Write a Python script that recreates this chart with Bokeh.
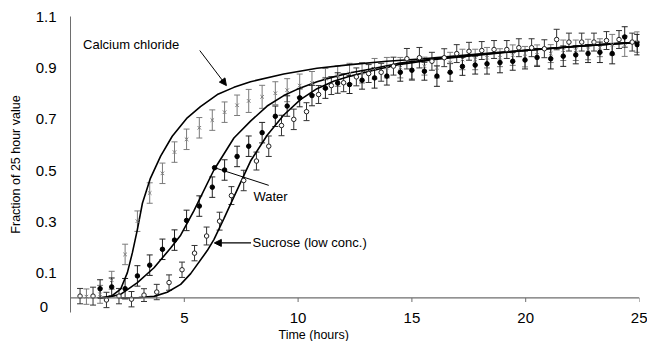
from bokeh.plotting import figure
from bokeh.models import (ColumnDataSource, Whisker, TeeHead, FixedTicker, Span,
                          Label, Arrow, NormalHead, Range1d, Title)
from bokeh.embed import file_html
from bokeh.resources import INLINE

# ---------------- data ----------------
x_ticks = [5, 10, 15, 20, 25]
y_ticks = [0.1, 0.3, 0.5, 0.7, 0.9, 1.1]
y_zero_pos = -0.034          # the hand-placed "0" label sits a little below the baseline
y_zero_label = "0\u00a0\u00a0"
x_title = "Time (hours)"
y_title = "Fraction of 25 hour value"

# Calcium chloride (crosses)
cacl_t = [0.70, 1.30, 1.81, 2.40, 2.94, 3.48, 4.04, 4.57, 5.10, 5.66,
          6.23, 6.77, 7.32, 7.83, 8.42, 9.00, 9.52, 10.07, 10.61, 11.20,
          11.74, 12.26, 12.81, 13.36, 13.90, 14.49, 15.00, 15.55, 16.10, 16.68,
          17.22, 17.78, 18.30, 18.87, 19.43, 19.97, 20.50, 21.10, 21.65, 22.20,
          22.74, 23.26, 23.80, 24.35, 24.90]
cacl_v = [0.005, 0.014, 0.069, 0.17, 0.30, 0.41, 0.487, 0.57, 0.62, 0.665,
          0.695, 0.726, 0.753, 0.77, 0.786, 0.80, 0.812, 0.83, 0.84, 0.857,
          0.867, 0.877, 0.88, 0.896, 0.90, 0.90, 0.89, 0.906, 0.90, 0.92,
          0.932, 0.932, 0.939, 0.939, 0.949, 0.943, 0.949, 0.955, 0.968, 0.968,
          0.971, 0.978, 0.99, 0.984, 1.0]
cacl_e = [0.03, 0.035, 0.035, 0.04, 0.04, 0.04, 0.04, 0.04, 0.04, 0.04,
          0.04, 0.04, 0.04, 0.045, 0.045, 0.045, 0.045, 0.045, 0.045, 0.04,
          0.04, 0.04, 0.04, 0.04, 0.04, 0.04, 0.04, 0.035, 0.04, 0.04,
          0.04, 0.04, 0.04, 0.035, 0.04, 0.04, 0.04, 0.035, 0.04, 0.04,
          0.04, 0.035, 0.04, 0.04, 0.04]

# Water (filled dots)
water_t = [1.30, 1.81, 2.40, 2.94, 3.48, 4.04, 4.57, 5.10, 5.66,
           6.23, 6.77, 7.32, 7.83, 8.42, 9.00, 9.52, 10.07, 10.61, 11.20,
           11.74, 12.26, 12.81, 13.36, 13.90, 14.49, 15.00, 15.55, 16.10, 16.68,
           17.22, 17.78, 18.30, 18.87, 19.43, 19.97, 20.50, 21.10, 21.65, 22.20,
           22.74, 23.26, 23.80, 24.35, 24.90]
water_v = [0.036, 0.043, 0.036, 0.086, 0.128, 0.19, 0.226, 0.303, 0.359,
           0.433, 0.50, 0.553, 0.593, 0.646, 0.71, 0.75, 0.782, 0.791, 0.82,
           0.84, 0.834, 0.851, 0.86, 0.867, 0.882, 0.89, 0.886, 0.867, 0.882,
           0.905, 0.91, 0.915, 0.92, 0.925, 0.93, 0.94, 0.935, 0.945, 0.95,
           0.955, 0.96, 0.955, 1.02, 0.99]
water_e = [0.035, 0.035, 0.04, 0.04, 0.04, 0.04, 0.04, 0.04, 0.04,
           0.04, 0.04, 0.04, 0.04, 0.04, 0.04, 0.04, 0.035, 0.04, 0.04,
           0.04, 0.035, 0.035, 0.04, 0.035, 0.035, 0.035, 0.035, 0.04, 0.035,
           0.035, 0.035, 0.04, 0.04, 0.035, 0.035, 0.035, 0.04, 0.04, 0.035,
           0.035, 0.04, 0.04, 0.04, 0.04]

# Sucrose (open circles)
suc_t = [0.42, 0.99, 1.58, 2.13, 2.68, 3.23, 3.79, 4.33, 4.90, 5.45,
         5.98, 6.55, 7.07, 7.61, 8.17, 8.71, 9.27, 9.81, 10.37, 10.90,
         11.46, 12.00, 12.56, 13.10, 13.65, 14.19, 14.78, 15.33, 15.88, 16.42,
         16.97, 17.51, 18.07, 18.61, 19.17, 19.70, 20.26, 20.82, 21.36, 21.90,
         22.46, 23.00, 23.55, 24.10, 24.68]
suc_v = [0.007, 0.007, -0.008, 0.007, -0.005, 0.011, 0.023, 0.06, 0.11, 0.175,
         0.242, 0.30, 0.40, 0.459, 0.535, 0.593, 0.674, 0.698, 0.728, 0.795,
         0.83, 0.841, 0.864, 0.877, 0.882, 0.906, 0.935, 0.939, 0.925, 0.939,
         0.955, 0.964, 0.967, 0.971, 0.971, 0.978, 0.978, 0.974, 1.01, 1.0,
         1.0, 1.0, 1.006, 1.01, 1.0]
suc_e = [0.03, 0.035, 0.03, 0.03, 0.03, 0.025, 0.03, 0.03, 0.03, 0.03,
         0.035, 0.035, 0.035, 0.04, 0.035, 0.04, 0.04, 0.04, 0.035, 0.035,
         0.035, 0.035, 0.035, 0.035, 0.035, 0.035, 0.04, 0.04, 0.035, 0.035,
         0.035, 0.035, 0.035, 0.035, 0.035, 0.035, 0.035, 0.035, 0.04, 0.035,
         0.035, 0.035, 0.035, 0.035, 0.035]

# fitted curves
cacl_curve_t = [1.3, 1.8, 2.2, 2.5, 2.72, 2.94, 3.16, 3.5, 3.96, 4.47, 5.13, 5.71,
                6.45, 7.18, 7.91, 9.37, 10.83, 12.3, 13.9, 15.5, 17.5, 20.0, 22.5, 25.0]
cacl_curve_v = [0.0, 0.007, 0.034, 0.099, 0.177, 0.268, 0.37, 0.465, 0.554, 0.632, 0.704, 0.748,
                0.795, 0.823, 0.845, 0.875, 0.898, 0.912, 0.925, 0.935, 0.95, 0.968, 0.985, 1.0]
water_curve_t = [1.2, 1.62, 2.2, 2.94, 3.67, 4.4, 4.84, 5.42, 6.3, 7.18, 7.91, 8.64,
                 9.37, 10.1, 10.83, 11.56, 12.3, 13.32, 14.49, 16.0, 18.0, 20.0, 22.5, 25.0]
water_curve_v = [0.0, 0.002, 0.014, 0.06, 0.118, 0.195, 0.245, 0.34, 0.5, 0.625, 0.691, 0.75,
                 0.791, 0.821, 0.845, 0.864, 0.88, 0.897, 0.918, 0.935, 0.952, 0.968, 0.985, 1.0]
suc_curve_t = [2.2, 3.0, 3.67, 4.25, 4.84, 5.28, 6.01, 6.3, 6.74, 7.18, 7.91, 8.64,
               9.37, 10.1, 10.83, 11.56, 12.3, 13.32, 14.49, 16.0, 18.0, 20.0, 22.5, 25.0]
suc_curve_v = [0.0, 0.001, 0.006, 0.022, 0.053, 0.095, 0.185, 0.228, 0.31, 0.395, 0.535, 0.636,
               0.715, 0.775, 0.818, 0.847, 0.867, 0.89, 0.913, 0.932, 0.95, 0.967, 0.985, 1.0]

# annotation texts and anchor points (data units)
labels = ["Calcium chloride", "Water", "Sucrose (low conc.)"]
label_x = [0.55, 8.04, 8.0]
label_y = [0.99, 0.398, 0.218]

# ---------------- style ----------------
FONT = "Liberation Sans"
AXIS_COLOR = "#6e6e6e"
GRAY = "#7a7a7a"
TICK_LEN = 0.016

p = figure(width=647, height=341, x_range=Range1d(0, 25), y_range=Range1d(-0.057, 1.1),
           output_backend="svg", toolbar_location=None,
           min_border_left=70, min_border_right=8, min_border_top=16, min_border_bottom=28)
p.grid.visible = False
p.outline_line_color = None
p.background_fill_color = "white"
p.border_fill_color = "white"

# x axis (labels at bottom, line drawn at y = 0)
p.xaxis.ticker = FixedTicker(ticks=x_ticks)
p.xaxis.axis_line_color = None
p.xaxis.major_tick_line_color = None
p.xaxis.major_tick_out = 0
p.xaxis.major_tick_in = 0
p.xaxis.minor_tick_line_color = None
p.xaxis.major_label_standoff = 0
p.xaxis.major_label_text_font = FONT
p.xaxis.major_label_text_font_size = "15px"
p.xaxis.major_label_text_color = "black"

# x-axis title sits left of the frame centre, as in the original
p.add_layout(Title(text=x_title, align="left", offset=208, standoff=0,
                   text_font=FONT, text_font_size="12.5px", text_font_style="normal",
                   text_color="black"), "below")

p.yaxis.ticker = FixedTicker(ticks=[y_zero_pos] + y_ticks)
p.yaxis.major_label_overrides = {y_zero_pos: y_zero_label}
p.yaxis.axis_line_color = AXIS_COLOR
p.yaxis.major_tick_line_color = None
p.yaxis.major_tick_out = 0
p.yaxis.major_tick_in = 0
p.yaxis.minor_tick_line_color = None
p.yaxis.major_label_standoff = 14
p.yaxis.major_label_text_font = FONT
p.yaxis.major_label_text_font_size = "15px"
p.yaxis.major_label_text_color = "black"
p.yaxis.axis_label = y_title
p.yaxis.axis_label_text_font = FONT
p.yaxis.axis_label_text_font_size = "12.5px"
p.yaxis.axis_label_text_font_style = "normal"
p.yaxis.axis_label_text_color = "black"
p.yaxis.axis_label_standoff = 10

p.add_layout(Span(location=0, dimension="width", line_color=AXIS_COLOR, line_width=1.2))
p.segment(x0=x_ticks, y0=[0] * len(x_ticks), x1=x_ticks, y1=[-TICK_LEN] * len(x_ticks),
          line_color=AXIS_COLOR, line_width=1)


def error_bars(t, v, e, color):
    src = ColumnDataSource(dict(t=t, lo=[a - b for a, b in zip(v, e)],
                                hi=[a + b for a, b in zip(v, e)]))
    p.add_layout(Whisker(source=src, base="t", lower="lo", upper="hi",
                         line_color=color, line_width=1,
                         upper_head=TeeHead(size=6, line_color=color, line_width=1),
                         lower_head=TeeHead(size=6, line_color=color, line_width=1)))


error_bars(cacl_t, cacl_v, cacl_e, GRAY)
error_bars(water_t, water_v, water_e, "#222222")
error_bars(suc_t, suc_v, suc_e, "#333333")

p.line(cacl_curve_t, cacl_curve_v, line_color="black", line_width=1.6)
p.line(water_curve_t, water_curve_v, line_color="black", line_width=1.6)
p.line(suc_curve_t, suc_curve_v, line_color="black", line_width=1.6)

p.scatter(cacl_t, cacl_v, marker="x", size=5, line_color=GRAY, line_width=1)
p.scatter(water_t, water_v, marker="circle", size=4.5, fill_color="black", line_color="black")
p.scatter(suc_t, suc_v, marker="circle", size=4.5, fill_color="white", line_color="#222222",
          line_width=1)

# annotations
for txt, lx, ly in zip(labels, label_x, label_y):
    p.add_layout(Label(x=lx, y=ly, text=txt, text_align="left", text_baseline="middle",
                       text_font=FONT, text_font_size="13px", text_color="black"))

p.add_layout(Arrow(end=NormalHead(size=7, fill_color="black", line_color="black"),
                   x_start=5.68, y_start=0.967, x_end=6.85, y_end=0.83,
                   line_color="black", line_width=1))
p.add_layout(Arrow(end=NormalHead(size=7, fill_color="black", line_color="black"),
                   x_start=7.93, y_start=0.215, x_end=6.32, y_end=0.215,
                   line_color="black", line_width=1.3))
p.add_layout(Arrow(end=None, x_start=8.71, y_start=0.44, x_end=6.33, y_end=0.509,
                   line_color="black", line_width=1))
p.scatter([6.33], [0.509], marker="circle", size=4.5, fill_color="black", line_color="black")

open("out.html", "w").write(file_html(p, INLINE))
